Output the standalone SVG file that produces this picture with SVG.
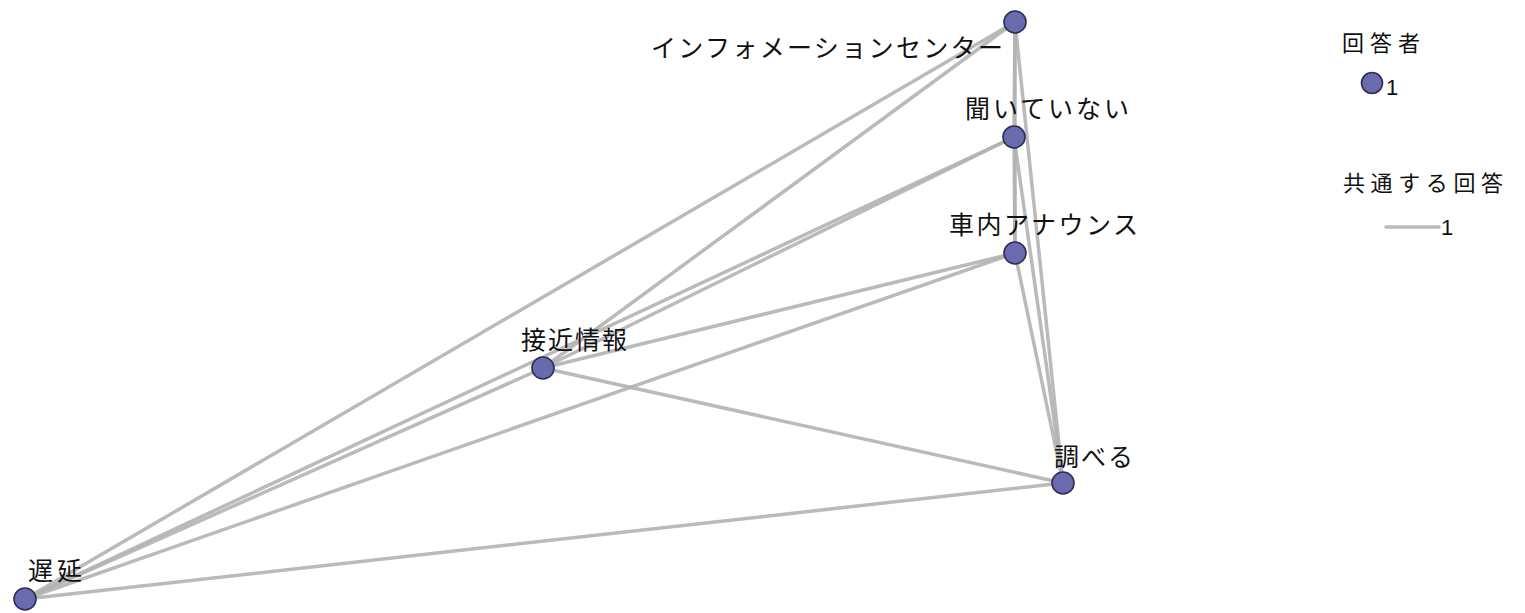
<svg xmlns="http://www.w3.org/2000/svg" width="1525" height="613" viewBox="0 0 1525 613">
<style>
.e{stroke:#b3b3b3;stroke-width:3.5;stroke-linecap:round;fill:none;opacity:0.9}
.n{fill:#6a6aae;stroke:#2e2e55;stroke-width:1.6}
.t{font-family:"Noto Sans CJK JP","Noto Sans",sans-serif;font-size:25px;fill:#111}
.l{font-family:"Noto Sans CJK JP","Noto Sans",sans-serif;font-size:22px;fill:#111}
.d{font-family:"Liberation Sans",Arial,sans-serif;font-size:22px;fill:#111}
</style>
<rect width="1525" height="613" fill="#fff"/>
<g id="edges">
<line class="e" x1="1015" y1="22" x2="25" y2="599"/>
<line class="e" x1="1015" y1="22" x2="543" y2="368"/>
<line class="e" x1="1015" y1="22" x2="1014" y2="137"/>
<line class="e" x1="1015" y1="22" x2="1015" y2="253"/>
<line class="e" x1="1015" y1="22" x2="1063" y2="483"/>
<line class="e" x1="1014" y1="137" x2="543" y2="368"/>
<line class="e" x1="1014" y1="137" x2="25" y2="599"/>
<line class="e" x1="1014" y1="137" x2="1015" y2="253"/>
<line class="e" x1="1014" y1="137" x2="1063" y2="483"/>
<line class="e" x1="1015" y1="253" x2="543" y2="368"/>
<line class="e" x1="1015" y1="253" x2="25" y2="599"/>
<line class="e" x1="1015" y1="253" x2="1063" y2="483"/>
<line class="e" x1="543" y1="368" x2="1063" y2="483"/>
<line class="e" x1="543" y1="368" x2="25" y2="599"/>
<line class="e" x1="1063" y1="483" x2="25" y2="599"/>
</g>
<g id="node-info"><circle class="n" cx="1015" cy="22" r="11"/><text class="t" x="651" y="57" textLength="352" lengthAdjust="spacing">インフォメーションセンター</text></g>
<g id="node-kiite"><circle class="n" cx="1014" cy="137" r="11"/><text class="t" x="965" y="118" textLength="164" lengthAdjust="spacing">聞いていない</text></g>
<g id="node-shanai"><circle class="n" cx="1015" cy="253" r="11"/><text class="t" x="949" y="234" textLength="189" lengthAdjust="spacing">車内アナウンス</text></g>
<g id="node-sekkin"><circle class="n" cx="543" cy="368" r="11"/><text class="t" x="521" y="349" textLength="106" lengthAdjust="spacing">接近情報</text></g>
<g id="node-shiraberu"><circle class="n" cx="1063" cy="483" r="11"/><text class="t" x="1054" y="466" textLength="79" lengthAdjust="spacing">調べる</text></g>
<g id="node-chien"><circle class="n" cx="25" cy="599" r="11"/><text class="t" x="28" y="580" textLength="54" lengthAdjust="spacing">遅延</text></g>
<g id="legend">
<text class="l" x="1342" y="51" textLength="78" lengthAdjust="spacing">回答者</text>
<circle class="n" cx="1372" cy="83" r="10.5"/>
<text class="d" x="1386" y="95">1</text>
<text class="l" x="1343" y="191" textLength="160" lengthAdjust="spacing">共通する回答</text>
<line class="e" x1="1386" y1="227" x2="1439" y2="227"/>
<text class="d" x="1441" y="235">1</text>
</g>
</svg>
